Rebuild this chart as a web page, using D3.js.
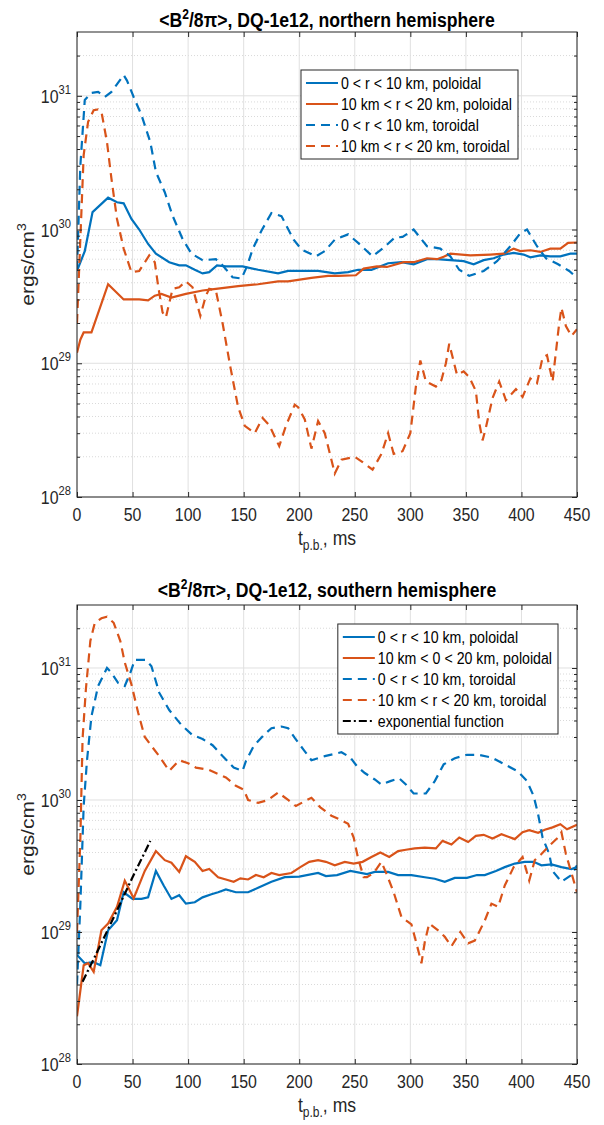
<!DOCTYPE html>
<html>
<head>
<meta charset="utf-8">
<title>&lt;B^2/8pi&gt;, DQ-1e12</title>
<script src="https://cdn.jsdelivr.net/npm/d3@7"></script>
<style>
  body { margin: 0; background: #fff; }
  svg { display: block; font-family: "Liberation Sans", Arial, sans-serif; }
</style>
</head>
<body>
<svg id="chart" width="604" height="1125"></svg>
<script>
// ---- values (ms, ergs/cm^3) ----
const xTicks = [0, 50, 100, 150, 200, 250, 300, 350, 400, 450];
const yDecades = [28, 29, 30, 31];

// northern hemisphere
const nPolInT = [0, 7, 14, 28, 36, 42, 49, 56, 64, 71, 83, 92, 98, 106, 113, 119, 126, 134, 149, 163, 181, 190, 217, 232, 244, 253, 265, 280, 292, 303, 315, 324, 336, 348, 357, 366, 375, 384, 393, 402, 408, 417, 426, 435, 444, 450];
const nPolIn = [4.9e29, 6.9e29, 1.35e30, 1.73e30, 1.6e30, 1.57e30, 1.2e30, 1.0e30, 7.8e29, 6.6e29, 5.7e29, 5.4e29, 5.4e29, 5.0e29, 4.7e29, 4.8e29, 5.4e29, 5.3e29, 5.3e29, 5.0e29, 4.7e29, 4.9e29, 4.9e29, 4.7e29, 4.8e29, 5.0e29, 5.0e29, 5.6e29, 5.7e29, 5.5e29, 6.0e29, 6.0e29, 5.9e29, 5.8e29, 5.5e29, 5.9e29, 6.1e29, 6.5e29, 6.7e29, 6.5e29, 6.2e29, 6.4e29, 6.3e29, 6.3e29, 6.6e29, 6.6e29];

const nPolOutT = [0, 3, 6, 13, 28, 42, 56, 64, 70, 76, 85, 98, 113, 125, 145, 163, 181, 190, 211, 226, 235, 251, 258, 270, 279, 294, 303, 315, 324, 330, 336, 354, 372, 384, 393, 399, 408, 417, 426, 435, 442, 450];
const nPolOut = [1.2e29, 1.5e29, 1.7e29, 1.7e29, 3.9e29, 3.0e29, 3.0e29, 2.95e29, 3.2e29, 3.3e29, 3.1e29, 3.3e29, 3.5e29, 3.6e29, 3.77e29, 3.9e29, 4.1e29, 4.1e29, 4.35e29, 4.5e29, 4.5e29, 4.55e29, 5.1e29, 5.3e29, 5.25e29, 5.7e29, 5.7e29, 6.1e29, 6.0e29, 6.25e29, 6.6e29, 6.4e29, 6.5e29, 6.6e29, 7.2e29, 6.9e29, 7.0e29, 6.8e29, 7.2e29, 7.2e29, 7.95e29, 8.0e29];

const nTorInT = [0, 3, 7, 13, 19, 25, 31, 42, 45, 51, 58, 66, 71, 79, 86, 95, 103, 113, 125, 131, 140, 148, 153, 158, 166, 175, 184, 195, 202, 215, 223, 232, 244, 253, 266, 275, 286, 293, 303, 315, 327, 336, 344, 353, 366, 378, 390, 399, 405, 414, 422, 433, 443, 450];
const nTorIn = [5.0e29, 3.0e30, 9.3e30, 1.05e31, 1.07e31, 9.8e30, 1.07e31, 1.43e31, 1.3e31, 9.8e30, 7.2e30, 4.5e30, 2.7e30, 1.9e30, 1.27e30, 8.5e29, 6.6e29, 5.9e29, 6.0e29, 5.4e29, 4.4e29, 4.3e29, 5.3e29, 7.1e29, 9.8e29, 1.33e30, 1.26e30, 8.4e29, 7.1e29, 6.3e29, 6.9e29, 8.4e29, 9.2e29, 7.95e29, 6.3e29, 7.2e29, 8.7e29, 8.8e29, 1.0e30, 7.5e29, 7.2e29, 6.3e29, 5.0e29, 4.5e29, 4.9e29, 5.8e29, 7.5e29, 9.4e29, 1.0e30, 7.5e29, 6.1e29, 5.5e29, 4.9e29, 4.35e29];

const nTorOutT = [0, 3, 6, 10, 15, 19, 22, 27, 31, 36, 42, 49, 56, 65, 70, 73, 77, 80, 86, 92, 98, 104, 111, 116, 119, 125, 131, 138, 145, 151, 160, 167, 173, 182, 188, 196, 199, 205, 211, 217, 223, 232, 238, 250, 256, 266, 274, 280, 285, 293, 300, 305, 309, 314, 323, 328, 332, 335, 342, 348, 353, 359, 362, 365, 368, 374, 380, 386, 395, 401, 408, 414, 419, 423, 428, 434, 436, 440, 445, 450];
const nTorOut = [2.0e29, 8.5e29, 3.6e30, 6.4e30, 7.8e30, 7.9e30, 7.6e30, 4.5e30, 2.4e30, 1.2e30, 7.2e29, 4.8e29, 4.9e29, 6.4e29, 5.7e29, 3.8e29, 2.4e29, 2.2e29, 3.6e29, 3.7e29, 4.1e29, 3.7e29, 2.26e29, 3.2e29, 3.6e29, 3.5e29, 2.0e29, 9.4e28, 4.7e28, 3.4e28, 3.0e28, 3.9e28, 3.45e28, 2.4e28, 3.4e28, 4.9e28, 4.7e28, 3.8e28, 2.3e28, 3.7e28, 3.0e28, 1.5e28, 1.9e28, 2.0e28, 1.85e28, 1.6e28, 2.1e28, 3.0e28, 2.1e28, 2.2e28, 3.0e28, 6.7e28, 1.05e29, 7.3e28, 6.7e28, 7.5e28, 1.0e29, 1.4e29, 8.2e28, 8.7e28, 7.9e28, 6.2e28, 3.6e28, 2.65e28, 3.3e28, 5.5e28, 7.3e28, 5.3e28, 6.4e28, 5.6e28, 7.7e28, 7.1e28, 1.1e29, 1.15e29, 7.3e28, 2.0e29, 2.6e29, 1.9e29, 1.6e29, 1.8e29];

// southern hemisphere
const sPolInT = [0, 7, 15, 21, 28, 36, 42, 50, 58, 64, 71, 78, 85, 92, 98, 106, 113, 121, 127, 134, 143, 154, 163, 175, 187, 200, 217, 224, 234, 246, 261, 268, 280, 289, 301, 313, 322, 331, 340, 351, 360, 367, 377, 385, 394, 403, 411, 418, 427, 436, 445, 450];
const sPolIn = [6.7e28, 5.8e28, 5.9e28, 5.6e28, 1.03e29, 1.23e29, 2.0e29, 1.78e29, 1.78e29, 1.83e29, 2.9e29, 2.25e29, 1.78e29, 1.9e29, 1.64e29, 1.68e29, 1.83e29, 1.93e29, 2.0e29, 2.1e29, 2.0e29, 2.0e29, 2.16e29, 2.4e29, 2.6e29, 2.63e29, 2.8e29, 2.65e29, 2.7e29, 2.9e29, 2.75e29, 2.85e29, 2.85e29, 2.7e29, 2.7e29, 2.6e29, 2.53e29, 2.4e29, 2.57e29, 2.57e29, 2.7e29, 2.7e29, 2.9e29, 3.1e29, 3.3e29, 3.4e29, 3.4e29, 3.2e29, 3.25e29, 3.1e29, 3.0e29, 3.1e29];

const sPolOutT = [0, 6, 10, 15, 22, 28, 36, 43, 51, 61, 71, 79, 85, 92, 98, 106, 113, 119, 127, 134, 141, 147, 154, 161, 168, 175, 182, 193, 201, 209, 217, 224, 232, 241, 249, 257, 265, 273, 281, 289, 296, 304, 313, 323, 329, 337, 344, 352, 359, 366, 374, 382, 394, 401, 407, 415, 421, 428, 435, 441, 450];
const sPolOut = [2.3e28, 5.6e28, 5.8e28, 5.0e28, 1.03e29, 1.16e29, 1.55e29, 2.45e29, 1.8e29, 2.9e29, 4.1e29, 3.5e29, 3.35e29, 2.85e29, 3.75e29, 3.4e29, 2.9e29, 3.0e29, 2.6e29, 2.5e29, 2.4e29, 2.55e29, 2.5e29, 2.7e29, 2.6e29, 2.8e29, 2.7e29, 2.8e29, 3.1e29, 3.4e29, 3.5e29, 3.4e29, 3.2e29, 3.4e29, 3.3e29, 3.4e29, 3.7e29, 4.0e29, 3.7e29, 4.1e29, 4.2e29, 4.3e29, 4.35e29, 4.3e29, 4.9e29, 4.6e29, 5.2e29, 4.8e29, 5.35e29, 5.45e29, 5.1e29, 5.5e29, 5.05e29, 5.7e29, 5.9e29, 5.65e29, 5.95e29, 6.2e29, 6.55e29, 6.0e29, 6.5e29];

const sTorInT = [0, 3, 6, 9, 13, 19, 27, 31, 37, 43, 48, 52, 62, 67, 74, 83, 94, 104, 113, 122, 131, 141, 149, 152, 159, 168, 175, 184, 190, 196, 204, 211, 223, 238, 246, 252, 259, 268, 274, 282, 290, 296, 303, 314, 322, 330, 340, 351, 361, 373, 385, 397, 405, 411, 415, 419, 425, 428, 436, 445, 450];
const sTorIn = [4.0e28, 1.6e29, 9.0e29, 2.0e30, 4.3e30, 7.3e30, 1.0e31, 9.2e30, 7.7e30, 7.3e30, 9.2e30, 1.15e31, 1.15e31, 1.03e31, 6.5e30, 4.8e30, 3.7e30, 3.1e30, 2.9e30, 2.6e30, 2.15e30, 1.76e30, 1.66e30, 1.97e30, 2.56e30, 3.1e30, 3.5e30, 3.6e30, 3.5e30, 2.95e30, 2.4e30, 2.0e30, 2.15e30, 2.3e30, 2.1e30, 1.8e30, 1.6e30, 1.43e30, 1.31e30, 1.39e30, 1.46e30, 1.31e30, 1.12e30, 1.12e30, 1.39e30, 1.86e30, 2.07e30, 2.2e30, 2.2e30, 2.1e30, 1.86e30, 1.64e30, 1.39e30, 1.07e30, 7.8e29, 5.2e29, 3.9e29, 2.9e29, 2.4e29, 2.7e29, 3.2e29];

const sTorOutT = [0, 3, 5, 8, 12, 16, 22, 27, 33, 39, 43, 49, 55, 61, 68, 74, 83, 92, 100, 107, 118, 125, 134, 143, 150, 154, 163, 172, 181, 190, 197, 205, 211, 219, 229, 237, 244, 249, 253, 258, 261, 267, 274, 279, 285, 292, 301, 306, 310, 313, 317, 325, 331, 337, 345, 352, 358, 367, 373, 379, 385, 393, 401, 407, 412, 418, 425, 433, 436, 440, 445, 450];
const sTorOut = [1.0e29, 5.0e29, 2.9e30, 6.9e30, 1.6e31, 2.2e31, 2.38e31, 2.45e31, 2.2e31, 1.6e31, 1.1e31, 7.5e30, 4.6e30, 3.0e30, 2.5e30, 2.15e30, 1.66e30, 2.0e30, 1.9e30, 1.76e30, 1.7e30, 1.6e30, 1.48e30, 1.28e30, 1.2e30, 1.0e30, 9.5e29, 1.0e30, 1.14e30, 1.0e30, 9.0e29, 9.8e29, 1.04e30, 8.8e29, 7.6e29, 7.1e29, 6.6e29, 5.2e29, 3.6e29, 2.6e29, 2.6e29, 2.8e29, 3.4e29, 2.7e29, 2.0e29, 1.3e29, 1.14e29, 7.9e28, 5.8e28, 8.4e28, 1.16e29, 1.03e29, 9.2e28, 7.8e28, 1.0e29, 8.2e28, 8.6e28, 1.22e29, 1.64e29, 1.55e29, 2.25e29, 3.1e29, 3.7e29, 2.45e29, 3.5e29, 3.9e29, 4.5e29, 5.2e29, 5.7e29, 3.9e29, 2.8e29, 2.0e29];

const sExpT = [5, 20, 35, 50, 66];
const sExp = [4.2e28, 7.6e28, 1.4e29, 2.6e29, 4.9e29];

// ---- styling ----
const SX = 0.86;             // the figure is squeezed horizontally
const blue = "#0072BD", orange = "#D95319", ink = "#262626";
const dashed = "9,6", dashDot = "8,3,2,3";

const svg = d3.select("#chart");
svg.append("rect").attr("width", 604).attr("height", 1125).attr("fill", "#fff");

const zip = (ts, vs) => ts.map((t, i) => ({t: t, v: vs[i]}));

function squeezed(parent, x, y, size, anchor) {
  return parent.append("text")
    .attr("transform", "translate(" + x + "," + y + ") scale(" + SX + ",1)")
    .attr("text-anchor", anchor)
    .attr("font-size", size)
    .attr("fill", ink);
}

const panels = [
  {name: "north", hemi: "northern", top: 32, bottom: 497, left: 77, right: 577, titleY: 27,
   legRight: 518, legTop: 70,
   series: [
     {label: "0 < r < 10 km, poloidal", data: zip(nPolInT, nPolIn), color: blue, dash: null},
     {label: "10 km < r < 20 km, poloidal", data: zip(nPolOutT, nPolOut), color: orange, dash: null},
     {label: "0 < r < 10 km, toroidal", data: zip(nTorInT, nTorIn), color: blue, dash: dashed},
     {label: "10 km < r < 20 km, toroidal", data: zip(nTorOutT, nTorOut), color: orange, dash: dashed}
   ]},
  {name: "south", hemi: "southern", top: 605, bottom: 1064, left: 77, right: 577, titleY: 597,
   legRight: 558, legTop: 624,
   series: [
     {label: "0 < r < 10 km, poloidal", data: zip(sPolInT, sPolIn), color: blue, dash: null},
     {label: "10 km < 0 < 20 km, poloidal", data: zip(sPolOutT, sPolOut), color: orange, dash: null},
     {label: "0 < r < 10 km, toroidal", data: zip(sTorInT, sTorIn), color: blue, dash: dashed},
     {label: "10 km < r < 20 km, toroidal", data: zip(sTorOutT, sTorOut), color: orange, dash: dashed},
     {label: "exponential function", data: zip(sExpT, sExp), color: "#000", dash: dashDot}
   ]}
];

function drawPanel(p) {
  const x = d3.scaleLinear().domain([0, 450]).range([p.left, p.right]);
  const y = d3.scaleLog().domain([1e28, 3e31]).range([p.bottom, p.top]);
  const g = svg.append("g");

  // grid
  const minor = [];
  yDecades.forEach(function (d) {
    for (let k = 2; k <= 9; k++) {
      const v = k * Math.pow(10, d);
      if (v < 2.99e31) minor.push(v);
    }
  });
  const major = yDecades.map(d => Math.pow(10, d));

  g.selectAll(".minor").data(minor).enter().append("line")
    .attr("x1", p.left).attr("x2", p.right)
    .attr("y1", d => y(d)).attr("y2", d => y(d))
    .attr("stroke", "#cfcfcf").attr("stroke-width", 0.8).attr("stroke-dasharray", "1,2");
  g.selectAll(".hgrid").data(major).enter().append("line")
    .attr("x1", p.left).attr("x2", p.right)
    .attr("y1", d => y(d)).attr("y2", d => y(d))
    .attr("stroke", "#e0e0e0").attr("stroke-width", 1);
  g.selectAll(".vgrid").data(xTicks).enter().append("line")
    .attr("x1", d => x(d)).attr("x2", d => x(d))
    .attr("y1", p.top).attr("y2", p.bottom)
    .attr("stroke", "#e0e0e0").attr("stroke-width", 1);

  // series
  const clipId = "clip-" + p.name;
  g.append("clipPath").attr("id", clipId).append("rect")
    .attr("x", p.left).attr("y", p.top)
    .attr("width", p.right - p.left).attr("height", p.bottom - p.top);
  const line = d3.line().x(d => x(d.t)).y(d => y(d.v));
  p.series.forEach(function (s) {
    g.append("path").datum(s.data)
      .attr("clip-path", "url(#" + clipId + ")")
      .attr("d", line)
      .attr("fill", "none")
      .attr("stroke", s.color)
      .attr("stroke-width", 2.2)
      .attr("stroke-dasharray", s.dash);
  });

  // box and ticks
  g.append("rect")
    .attr("x", p.left).attr("y", p.top)
    .attr("width", p.right - p.left).attr("height", p.bottom - p.top)
    .attr("fill", "none").attr("stroke", ink).attr("stroke-width", 1);

  const axes = [
    [d3.axisBottom(x).tickValues(xTicks).tickSize(-5), "translate(0," + p.bottom + ")"],
    [d3.axisTop(x).tickValues(xTicks).tickSize(-5), "translate(0," + p.top + ")"],
    [d3.axisLeft(y).tickValues(major).tickSize(-5), "translate(" + p.left + ",0)"],
    [d3.axisLeft(y).tickValues(minor).tickSize(-3), "translate(" + p.left + ",0)"],
    [d3.axisRight(y).tickValues(major).tickSize(-5), "translate(" + p.right + ",0)"],
    [d3.axisRight(y).tickValues(minor).tickSize(-3), "translate(" + p.right + ",0)"]
  ];
  axes.forEach(function (a) {
    g.append("g").attr("transform", a[1])
      .call(a[0].tickFormat("").tickSizeOuter(0))
      .call(sel => sel.select(".domain").remove())
      .selectAll("line").attr("stroke", ink);
  });

  // tick labels
  xTicks.forEach(function (t) {
    squeezed(g, x(t), p.bottom + 24, 18.5, "middle").text(t);
  });
  yDecades.forEach(function (d) {
    const txt = squeezed(g, p.left - 6, y(Math.pow(10, d)) + 7, 18.5, "end");
    txt.append("tspan").text("10");
    txt.append("tspan").attr("font-size", 13).attr("dy", -9).text(d);
  });

  // title
  const title = squeezed(g, (p.left + p.right) / 2, p.titleY, 20.5, "middle")
    .attr("font-weight", "bold").attr("fill", "#000");
  title.append("tspan").text("<B");
  title.append("tspan").attr("font-size", 14).attr("dy", -8).text("2");
  title.append("tspan").attr("dy", 8).text("/8\u03c0>, DQ-1e12, " + p.hemi + " hemisphere");

  // axis labels
  const xl = squeezed(g, (p.left + p.right) / 2, p.bottom + 48, 20.5, "middle");
  xl.append("tspan").text("t");
  xl.append("tspan").attr("font-size", 14).attr("dy", 5).text("p.b.");
  xl.append("tspan").attr("dy", -5).text(", ms");

  const yl = g.append("text")
    .attr("transform", "translate(34," + (p.top + p.bottom) / 2 + ") scale(" + SX + ",1) rotate(-90)")
    .attr("text-anchor", "middle").attr("font-size", 21).attr("fill", ink);
  yl.append("tspan").text("ergs/cm");
  yl.append("tspan").attr("font-size", 14).attr("dy", -9).text("3");

  // legend
  const lg = g.append("g");
  let maxLen = 0;
  p.series.forEach(function (s, i) {
    const ry = 13 + i * 21;
    lg.append("line")
      .attr("x1", 5).attr("x2", 37).attr("y1", ry).attr("y2", ry)
      .attr("stroke", s.color).attr("stroke-width", 2.2)
      .attr("stroke-dasharray", s.dash);
    const t = squeezed(lg, 40, ry + 6, 16.5, "start").attr("fill", "#000").text(s.label);
    maxLen = Math.max(maxLen, t.node().getComputedTextLength() * SX);
  });
  const lw = 40 + maxLen + 6;
  const lh = 26 + (p.series.length - 1) * 21;
  lg.insert("rect", ":first-child")
    .attr("width", lw).attr("height", lh)
    .attr("fill", "#fff").attr("stroke", ink).attr("stroke-width", 1);
  lg.attr("transform", "translate(" + (p.legRight - lw) + "," + p.legTop + ")");
}

panels.forEach(drawPanel);
</script>
</body>
</html>
